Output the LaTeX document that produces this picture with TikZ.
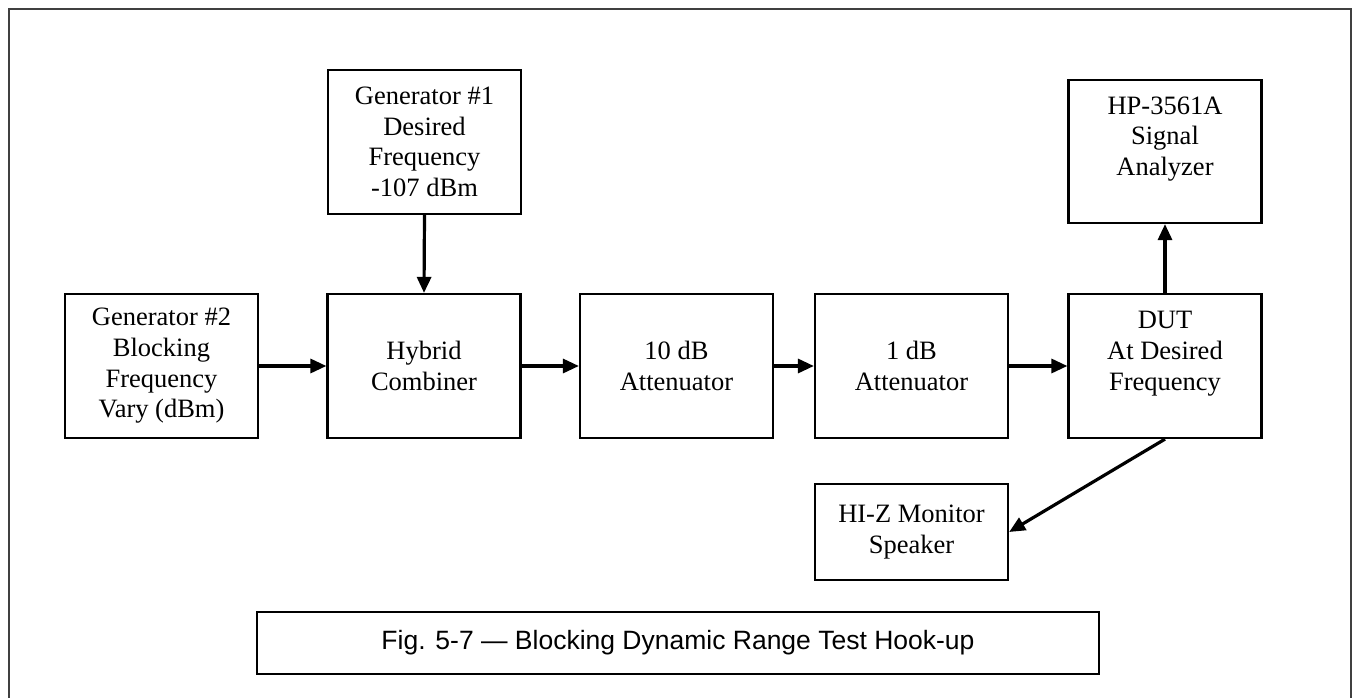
\documentclass[tikz,border=0pt]{standalone}
\usepackage{fontspec}
\setmainfont{Liberation Serif}
\newfontfamily\capfont{Liberation Sans}
\usetikzlibrary{arrows.meta}
\tikzset{
  blk/.style={draw=black, line width=2.2pt, minimum width=193pt, minimum height=144pt,
    align=center, inner sep=0pt, font=\fontsize{26.5}{30.7}\selectfont},
  conn/.style={line width=3.2pt, -{Triangle[length=16pt,width=14pt]}},
  frame/.style={draw=black!75, line width=2pt}
}
\begin{document}
\begin{tikzpicture}[x=1pt,y=-1pt]
\useasboundingbox (0,0) rectangle (1353,698);
\draw[frame] (9,698) -- (9,9) -- (1351,9) -- (1351,698);
\node[blk] (gen1) at (424.5,142) {Generator \#1\\Desired\\Frequency\\-107 dBm};
\node[blk] (gen2) at (161.5,366) {Generator \#2\\Blocking\\Frequency\\Vary (dBm)};
\node[blk] (hyb) at (424,366) {Hybrid\\Combiner};
\node[blk] (att10) at (676.5,366) {10 dB\\Attenuator};
\node[blk] (att1) at (911.5,366) {1 dB\\Attenuator};
\node[blk] (dut) at (1165,366) {DUT\\At Desired\\Frequency\\\mbox{}};
\node[blk, minimum height=143pt] (hp) at (1165,151.5) {HP-3561A\\Signal\\Analyzer\\\mbox{}};
\node[blk, minimum height=96pt] (hiz) at (911.5,532) {HI-Z Monitor\\Speaker};
\node[draw=black, line width=2.2pt, minimum width=842pt, minimum height=62pt, inner sep=0pt,
  font=\capfont\fontsize{26.5}{30}\selectfont] (cap) at (678,643)
  {Fig. 5-7 \textemdash\ Blocking Dynamic Range Test Hook-up};
\draw[conn] (gen1.south) -- (hyb.north);
\draw[conn] (gen2.east) -- (hyb.west);
\draw[conn] (hyb.east) -- (att10.west);
\draw[conn] (att10.east) -- (att1.west);
\draw[conn] (att1.east) -- (dut.west);
\draw[conn] (dut.north) -- (hp.south);
\draw[conn] (dut.south) -- (hiz.east);
\end{tikzpicture}
\end{document}
